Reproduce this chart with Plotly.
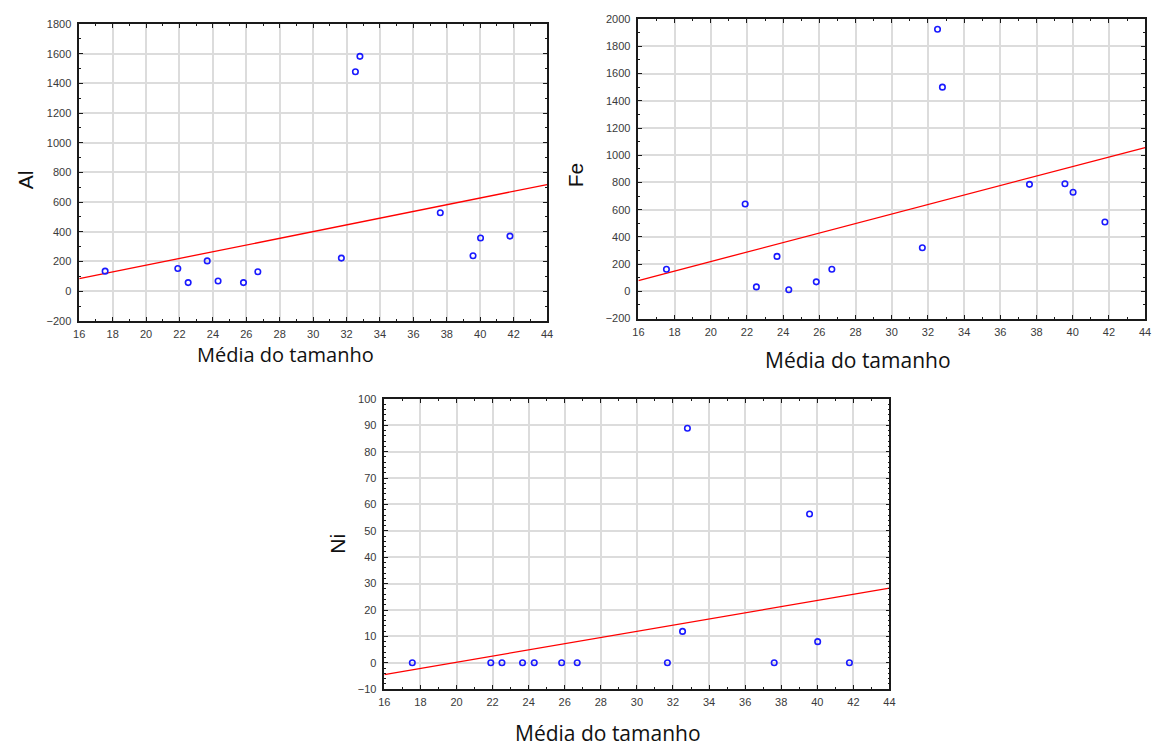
import numpy as np
import plotly.graph_objects as go

# ---- data ----
media_tamanho = [17.55, 21.90, 22.52, 23.66, 24.31, 25.83, 26.69, 31.69, 32.53, 32.80, 37.61, 39.57, 40.02, 41.78]
al_values = [135, 153, 58, 204, 69, 58, 131, 223, 1478, 1582, 528, 239, 358, 371]
fe_values = [163, 642, 33, 257, 12, 70, 163, 320, 1925, 1500, 786, 791, 728, 510]
ni_values = [0, 0, 0, 0, 0, 0, 0, 0, 11.9, 88.9, 0, 56.4, 8.0, 0]

x_range = [16, 44]
al_range = [-200, 1800]
fe_range = [-200, 2000]
ni_range = [-10, 100]

x_title = "Média do tamanho"
y_titles = ["Al", "Fe", "Ni"]

W, H = 1161, 749

def px_x(p):
    return p / W

def px_y(p):
    return 1 - p / H

# panel boxes in pixels: (left, right, top, bottom)
panels = [
    (74, 546.7, 18.3, 320.0),
    (639, 1151, 13.3, 317.7),
    (382.3, 892.7, 399.3, 694.3),
]

series = [al_values, fe_values, ni_values]
yranges = [al_range, fe_range, ni_range]
ydticks = [200, 200, 10]
yminor = [100, 100, 2]

fig = go.Figure()

GRID = "#dcdcdc"
FRAME = "#1a1a1a"
TICKFONT = dict(family="Liberation Sans, Arial, sans-serif", size=11, color="#3a3a3a")

for i, (vals, yr) in enumerate(zip(series, yranges)):
    xa = "x" if i == 0 else f"x{i+1}"
    ya = "y" if i == 0 else f"y{i+1}"
    slope, intercept = np.polyfit(np.array(media_tamanho), np.array(vals, dtype=float), 1)
    xl = np.array(x_range, dtype=float)
    fig.add_trace(go.Scatter(
        x=xl, y=slope * xl + intercept, mode="lines",
        line=dict(color="#ff0000", width=1.3), xaxis=xa, yaxis=ya,
        showlegend=False, hoverinfo="skip"))
    fig.add_trace(go.Scatter(
        x=media_tamanho, y=vals, mode="markers",
        marker=dict(symbol="circle-open", size=5.5, color="#1a1aff", line=dict(width=1.6)),
        xaxis=xa, yaxis=ya, showlegend=False))

    l, r, t, b = panels[i]
    xkey = "xaxis" if i == 0 else f"xaxis{i+1}"
    ykey = "yaxis" if i == 0 else f"yaxis{i+1}"
    fig.layout[xkey] = dict(
        domain=[px_x(l), px_x(r)], anchor=ya, range=x_range, dtick=2, tick0=0,
        showgrid=True, gridcolor=GRID, gridwidth=1.5, zeroline=False,
        showline=True, linecolor=FRAME, linewidth=1.5, mirror="ticks",
        ticks="inside", ticklen=4, tickcolor=FRAME, tickwidth=1,
        minor=dict(dtick=1, ticks="inside", ticklen=2, tickcolor=FRAME, showgrid=False),
        tickfont=TICKFONT, ticklabelstandoff=2)
    fig.layout[ykey] = dict(
        domain=[px_y(b), px_y(t)], anchor=xa, range=yr, dtick=ydticks[i], tick0=0,
        showgrid=True, gridcolor=GRID, gridwidth=1.5, zeroline=False,
        showline=True, linecolor=FRAME, linewidth=1.5, mirror="ticks",
        ticks="inside", ticklen=4, tickcolor=FRAME, tickwidth=1,
        minor=dict(dtick=yminor[i], ticks="inside", ticklen=2, tickcolor=FRAME, showgrid=False),
        tickfont=TICKFONT, ticklabelstandoff=4)

annotations = []
# y titles
for (cx, cy), txt in zip([(19.6, 176.7), (575, 172), (335, 547)], y_titles):
    annotations.append(dict(
        x=px_x(cx), y=px_y(cy), xref="paper", yref="paper", text=txt, textangle=-90,
        showarrow=False, xanchor="center", yanchor="middle",
        font=dict(family="Liberation Sans, Arial, sans-serif", size=21, color="#111111")))
# x titles
for (cx, cy, fs) in [(282, 354.5, 20), (860.5, 359.5, 21), (608.5, 739, 21)]:
    annotations.append(dict(
        x=px_x(cx), y=px_y(cy), xref="paper", yref="paper", text=x_title,
        showarrow=False, xanchor="center", yanchor="middle",
        font=dict(family="Open Sans, sans-serif", size=fs, color="#111111")))

fig.update_layout(
    width=W, height=H, margin=dict(l=0, r=0, t=0, b=0),
    paper_bgcolor="white", plot_bgcolor="white",
    annotations=annotations, showlegend=False)

fig.write_html("out.html", config={"displayModeBar": False},
               post_script="document.body.style.margin='0';document.body.style.overflow='hidden';")
